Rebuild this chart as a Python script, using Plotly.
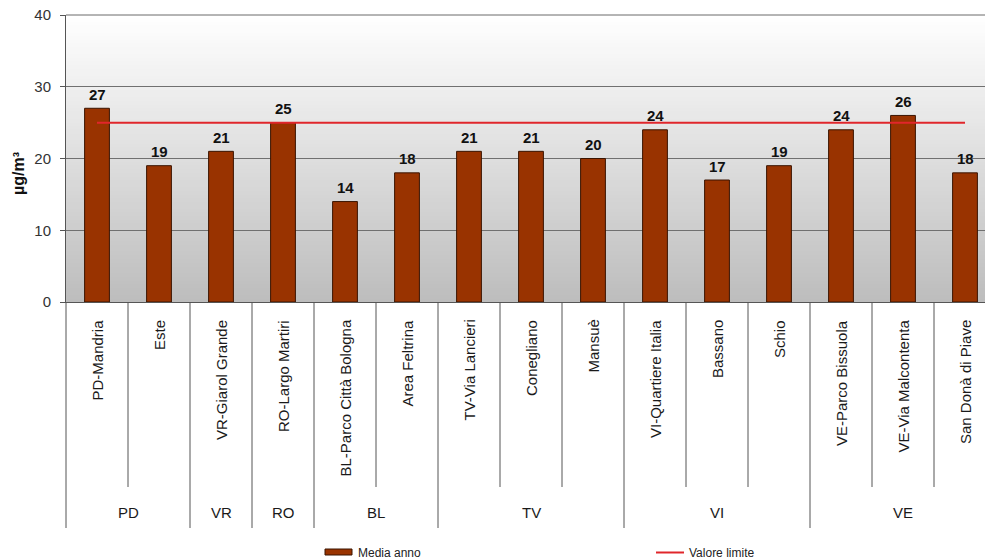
import plotly.graph_objects as go

# Stations, their province group and the annual means (µg/m³)
stations = [
    "PD-Mandria", "Este", "VR-Giarol Grande", "RO-Largo Martiri",
    "BL-Parco Città Bologna", "Area Feltrina", "TV-Via Lancieri",
    "Conegliano", "Mansuè", "VI-Quartiere Italia", "Bassano", "Schio",
    "VE-Parco Bissuola", "VE-Via Malcontenta", "San Donà di Piave",
]
provinces = ["PD", "PD", "VR", "RO", "BL", "BL", "TV", "TV", "TV",
             "VI", "VI", "VI", "VE", "VE", "VE"]
media_anno = [27, 19, 21, 25, 14, 18, 21, 21, 20, 24, 17, 19, 24, 26, 18]
valore_limite = [25, 25, 25, 25, 25, 25, 25, 25, 25, 25, 25, 25, 25, 25, 25]
y_ticks = [0, 10, 20, 30, 40]

FONT = "Liberation Sans, Arial, sans-serif"
W, H = 985, 559
L, T, B = 66, 15, 257
PLOT_W = W - L
PLOT_H = H - T - B
CAT_W = 62.0  # pixel width of one station slot


def px_x(p):
    """Pixel x -> paper coordinate."""
    return (p - L) / PLOT_W


def px_y(p):
    """Pixel y -> paper coordinate."""
    return (H - B - p) / PLOT_H


fig = go.Figure()

fig.add_trace(go.Bar(
    x=stations, y=media_anno, name="Media anno", width=0.4,
    marker=dict(color="#993300", line=dict(color="#3a1400", width=1)),
    showlegend=False, hoverinfo="x+y",
))
fig.add_trace(go.Scatter(
    x=stations, y=valore_limite, name="Valore limite", mode="lines",
    line=dict(color="#e0262b", width=2),
    showlegend=False, hoverinfo="x+y",
))

shapes = []

# vertical grey gradient behind the plot (overlapping bands, no seams)
n_bands = 80
top_c, bot_c = (255, 255, 255), (188, 188, 188)
for k in range(n_bands):
    frac = 1 - k / n_bands
    yt = 40 * frac
    c = tuple(round(bot_c[i] + (top_c[i] - bot_c[i]) * frac) for i in range(3))
    shapes.append(dict(type="rect", xref="paper", yref="y", x0=0, x1=1,
                       y0=0, y1=yt, layer="below", line=dict(width=0),
                       fillcolor="rgb(%d,%d,%d)" % c))

# top border of the plot area
shapes.append(dict(type="line", xref="paper", yref="paper", x0=0, x1=1,
                   y0=1, y1=1, line=dict(color="#6a6a6a", width=1)))

# dividers of the two-level category axis
shapes.append(dict(type="line", xref="paper", yref="paper", x0=0, x1=0,
                   y0=0, y1=px_y(528), line=dict(color="#555555", width=1)))
for i in range(len(stations) - 1):
    group_end = provinces[i] != provinces[i + 1]
    xp = px_x(L + (i + 1) * CAT_W)
    shapes.append(dict(type="line", xref="paper", yref="paper", x0=xp, x1=xp,
                       y0=0, y1=px_y(528 if group_end else 487),
                       line=dict(color="#555555", width=1)))

# manual legend keys
shapes.append(dict(type="rect", xref="paper", yref="paper",
                   x0=px_x(325), x1=px_x(352), y0=px_y(555), y1=px_y(549),
                   fillcolor="#993300", line=dict(color="#3a1400", width=1)))
shapes.append(dict(type="line", xref="paper", yref="paper",
                   x0=px_x(656), x1=px_x(684), y0=px_y(552.5), y1=px_y(552.5),
                   line=dict(color="#e0262b", width=2)))

annotations = []

# value labels above the bars
for s, v in zip(stations, media_anno):
    annotations.append(dict(x=s, y=v, xref="x", yref="y", text=str(v),
                            showarrow=False, yanchor="middle", yshift=14,
                            font=dict(family=FONT, size=15, color="#111111")))
    # bold via markup
    annotations[-1]["text"] = "<b>%d</b>" % v

# station names, rotated
for i, s in enumerate(stations):
    annotations.append(dict(x=px_x(L + (i + 0.5) * CAT_W), y=px_y(318),
                            xref="paper", yref="paper", text=s,
                            showarrow=False, textangle=-90,
                            xanchor="center", yanchor="top",
                            font=dict(family=FONT, size=15, color="#1a1a1a")))

# province names, centred under each group
groups = []
for i, p in enumerate(provinces):
    if groups and groups[-1][0] == p:
        groups[-1][2] = i
    else:
        groups.append([p, i, i])
for p, a, b in groups:
    xc = L + ((a + b) / 2 + 0.5) * CAT_W
    annotations.append(dict(x=px_x(xc), y=px_y(512), xref="paper",
                            yref="paper", text=p, showarrow=False,
                            xanchor="center", yanchor="middle",
                            font=dict(family=FONT, size=15, color="#1a1a1a")))

# y-axis title
annotations.append(dict(x=px_x(18), y=px_y(174), xref="paper", yref="paper",
                        text="<b>µg/m³</b>", showarrow=False, textangle=-90,
                        xanchor="center", yanchor="middle",
                        font=dict(family=FONT, size=16, color="#111111")))

# legend texts
annotations.append(dict(x=px_x(356), y=px_y(553), xref="paper", yref="paper",
                        text="Media anno", showarrow=False, xanchor="left",
                        yanchor="middle",
                        font=dict(family=FONT, size=12, color="#222222")))
annotations.append(dict(x=px_x(687), y=px_y(553), xref="paper", yref="paper",
                        text="Valore limite", showarrow=False, xanchor="left",
                        yanchor="middle",
                        font=dict(family=FONT, size=12, color="#222222")))

fig.update_layout(
    width=W, height=H,
    margin=dict(l=L, r=0, t=T, b=B, pad=0),
    paper_bgcolor="white", plot_bgcolor="rgba(0,0,0,0)",
    font=dict(family=FONT),
    showlegend=False,
    bargap=0.6,
    shapes=shapes,
    annotations=annotations,
    xaxis=dict(type="category", categoryorder="array", categoryarray=stations,
               range=[-0.5, -0.5 + PLOT_W / CAT_W],
               showticklabels=False, ticks="", showgrid=False,
               showline=True, linecolor="#555555", linewidth=1,
               zeroline=False, fixedrange=True),
    yaxis=dict(range=[0, 40], tickvals=y_ticks, ticktext=[str(t) for t in y_ticks],
               showline=True, linecolor="#555555", linewidth=1,
               ticks="outside", ticklen=5, tickcolor="#555555",
               ticklabelstandoff=6,
               showgrid=True, gridcolor="#707070", gridwidth=1,
               zeroline=False,
               tickfont=dict(family=FONT, size=15, color="#333333"),
               fixedrange=True),
)

fig.write_html("out.html")
